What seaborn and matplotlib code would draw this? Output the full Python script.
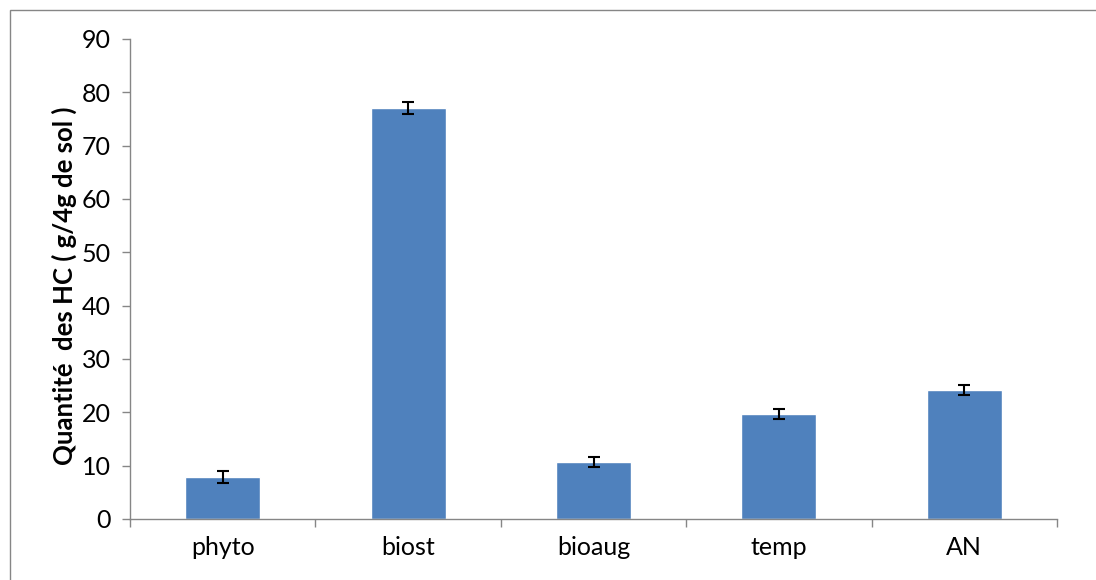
import matplotlib
matplotlib.use("Agg")
import matplotlib.pyplot as plt
import seaborn as sns
import pandas as pd
from matplotlib.patches import Rectangle

categories = ["phyto", "biost", "bioaug", "temp", "AN"]
values = [7.9, 77.1, 10.7, 19.7, 24.2]
errors = [1.1, 1.1, 1.0, 1.0, 1.0]
yticks = [0, 10, 20, 30, 40, 50, 60, 70, 80, 90]

sns.set_theme(style="white")
plt.rcParams['font.family'] = ['Lato', 'DejaVu Sans']

df = pd.DataFrame({"cat": categories, "val": values})

fig = plt.figure(figsize=(10.96, 5.80), dpi=100)
ax = fig.add_axes([130/1096, 61/580, (1057-130)/1096, (519-39)/580])

sns.barplot(data=df, x="cat", y="val", color="#4F81BD", saturation=1,
            width=0.405, errorbar=None, ax=ax)
ax.errorbar(range(len(categories)), values, yerr=errors, fmt="none",
            ecolor="black", elinewidth=1.5, capsize=4.5, capthick=1.5)

ax.set_xlim(-0.5, len(categories) - 0.5)
ax.set_ylim(0, 90)
ax.set_yticks(yticks)
ax.set_yticklabels([str(t) for t in yticks], fontsize=18, color="black")
ax.set_xticks(range(len(categories)))
ax.set_xticklabels(categories, fontsize=18, color="black")
ax.set_xticks([i - 0.5 for i in range(len(categories) + 1)], minor=True)
ax.tick_params(axis="x", which="major", length=0, pad=12)
ax.tick_params(axis="x", which="minor", length=6, width=1, color="#868686", direction="out", bottom=True)
ax.tick_params(axis="y", length=6, width=1, color="#868686", direction="out", left=True, pad=8)
ax.set_xlabel("")
ax.set_ylabel("Quantité  des HC ( g/4g de sol )", fontsize=18.5, fontweight="bold", color="black")
ax.yaxis.set_label_coords(-0.057, 0.485)

for s in ["top", "right"]:
    ax.spines[s].set_visible(False)
for s in ["left", "bottom"]:
    ax.spines[s].set_color("#868686")
    ax.spines[s].set_linewidth(1)

fig.patches.append(Rectangle((10/1096, -0.1), 1.2, (580-10)/580 + 0.1,
                             transform=fig.transFigure, fill=False,
                             edgecolor="#868686", linewidth=1))

fig.savefig("out.png", dpi=100)
